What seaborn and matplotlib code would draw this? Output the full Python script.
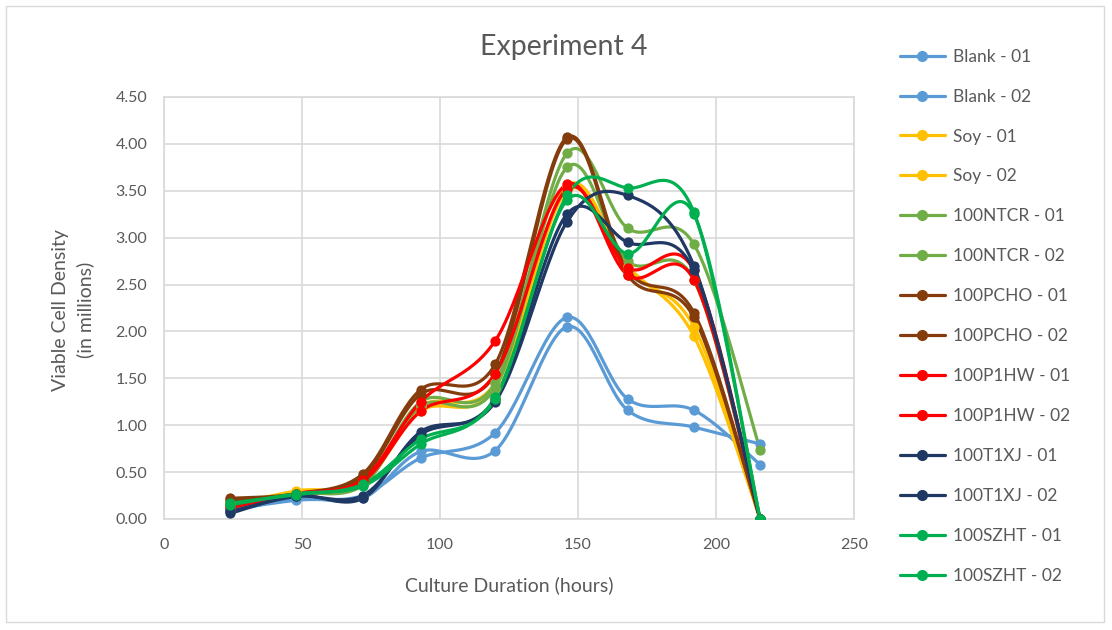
import numpy as np
import pandas as pd
import matplotlib
matplotlib.use('Agg')
import matplotlib.pyplot as plt
from matplotlib.lines import Line2D
from matplotlib.patches import Rectangle
import seaborn as sns

# culture time points (hours)
hours = [24, 48, 72, 93, 120, 146, 168, 192, 216]

# viable cell density (millions)
blank_01 = [0.10, 0.20, 0.25, 0.65, 0.92, 2.15, 1.28, 1.16, 0.58]
blank_02 = [0.08, 0.22, 0.22, 0.72, 0.73, 2.05, 1.16, 0.98, 0.80]
soy_01 = [0.15, 0.30, 0.40, 1.20, 1.45, 3.55, 2.70, 1.95, 0.00]
soy_02 = [0.18, 0.28, 0.38, 1.15, 1.40, 3.50, 2.65, 2.05, 0.00]
ntcr_01 = [0.15, 0.27, 0.38, 1.25, 1.45, 3.90, 3.10, 2.93, 0.74]
ntcr_02 = [0.17, 0.27, 0.36, 1.20, 1.40, 3.75, 2.75, 2.55, 0.00]
pcho_01 = [0.22, 0.27, 0.48, 1.38, 1.65, 4.07, 2.65, 2.20, 0.00]
pcho_02 = [0.20, 0.26, 0.45, 1.33, 1.55, 4.05, 2.60, 2.15, 0.00]
p1hw_01 = [0.12, 0.27, 0.42, 1.25, 1.90, 3.57, 2.60, 2.55, 0.00]
p1hw_02 = [0.14, 0.26, 0.40, 1.15, 1.55, 3.52, 2.68, 2.65, 0.00]
t1xj_01 = [0.06, 0.25, 0.22, 0.93, 1.25, 3.17, 3.45, 2.70, 0.00]
t1xj_02 = [0.08, 0.24, 0.25, 0.90, 1.28, 3.25, 2.95, 2.65, 0.00]
szht_01 = [0.15, 0.27, 0.35, 0.80, 1.30, 3.45, 3.53, 3.27, 0.00]
szht_02 = [0.17, 0.26, 0.37, 0.85, 1.28, 3.40, 2.83, 3.25, 0.00]

labels = ['Blank - 01', 'Blank - 02', 'Soy - 01', 'Soy - 02',
          '100NTCR - 01', '100NTCR - 02', '100PCHO - 01', '100PCHO - 02',
          '100P1HW - 01', '100P1HW - 02', '100T1XJ - 01', '100T1XJ - 02',
          '100SZHT - 01', '100SZHT - 02']
values = [blank_01, blank_02, soy_01, soy_02, ntcr_01, ntcr_02, pcho_01, pcho_02,
          p1hw_01, p1hw_02, t1xj_01, t1xj_02, szht_01, szht_02]
colors = ['#5B9BD5', '#5B9BD5', '#FFC000', '#FFC000', '#70AD47', '#70AD47',
          '#843C0C', '#843C0C', '#FF0000', '#FF0000', '#1F3864', '#1F3864',
          '#00B050', '#00B050']
palette = dict(zip(labels, colors))


def smooth(xs, ys, n=30):
    # Excel-style smoothed line (Catmull-Rom bezier)
    p = np.column_stack([xs, ys]).astype(float)
    out = []
    for i in range(len(p) - 1):
        p0 = p[i - 1] if i > 0 else p[i]
        p3 = p[i + 2] if i + 2 < len(p) else p[i + 1]
        c1 = p[i] + (p[i + 1] - p0) / 6
        c2 = p[i + 1] - (p3 - p[i]) / 6
        t = np.linspace(0, 1, n)[:, None]
        seg = ((1 - t) ** 3) * p[i] + 3 * ((1 - t) ** 2) * t * c1 + 3 * (1 - t) * t ** 2 * c2 + t ** 3 * p[i + 1]
        out.append(seg if i == 0 else seg[1:])
    return np.vstack(out)


rows, pts = [], []
for lab, vals in zip(labels, values):
    s = smooth(hours, vals)
    for k, (sx, sy) in enumerate(s):
        rows.append({'series': lab, 'order': k, 'x': sx, 'y': sy})
    for h, v in zip(hours, vals):
        pts.append({'series': lab, 'x': h, 'y': v})
curves = pd.DataFrame(rows)
points = pd.DataFrame(pts)

sns.set_style('white')
plt.rcParams['font.family'] = ['Lato', 'DejaVu Sans']

fig = plt.figure(figsize=(11.12, 6.3), dpi=100)
ax = fig.add_axes([164 / 1112, 1 - 519 / 630, 690 / 1112, 422 / 630])

for lab in labels:
    sns.lineplot(data=curves[curves.series == lab], x='x', y='y', color=palette[lab],
                 sort=False, estimator=None, linewidth=2.3, ax=ax, legend=False)
    sns.scatterplot(data=points[points.series == lab], x='x', y='y', color=palette[lab],
                    s=55, edgecolor=palette[lab], linewidth=0, ax=ax, legend=False, zorder=3)

ax.set_xlim(0, 250)
ax.set_ylim(0, 4.5)
ax.set_xticks(range(0, 251, 50))
ax.set_yticks(np.arange(0, 4.51, 0.5))
ax.set_yticklabels([f'{v:.2f}' for v in np.arange(0, 4.51, 0.5)])
ax.grid(True, color='#D9D9D9', linewidth=1.2)
ax.set_axisbelow(True)
for sp in ax.spines.values():
    sp.set_color('#D9D9D9')
    sp.set_linewidth(1.2)
ax.tick_params(colors='#595959', labelsize=11.5, length=0)
ax.tick_params(axis='x', pad=14)
ax.tick_params(axis='y', pad=12)
ax.set_xlabel('')
ax.set_ylabel('')

fig.text(564 / 1112, 1 - 47 / 630, 'Experiment 4', ha='center', va='center',
         fontsize=20.5, color='#595959')
fig.text(509 / 1112, 1 - 585 / 630, 'Culture Duration (hours)', ha='center', va='center',
         fontsize=14, color='#595959')
fig.text(73 / 1112, 1 - 310 / 630, 'Viable Cell Density\n(in millions)', ha='center', va='center',
         rotation=90, fontsize=14, color='#595959', linespacing=1.45)

handles = [Line2D([0], [0], color=c, linewidth=2.3, marker='o', markersize=7) for c in colors]
fig.legend(handles, labels, loc='upper left', bbox_to_anchor=(884 / 1112, 1 - 33 / 630),
           frameon=False, fontsize=12.5, labelcolor='#595959', handlelength=2.6,
           handletextpad=0.45, labelspacing=1.38)

fig.patches.append(Rectangle((6 / 1112, 8 / 630), 1098 / 1112, 616 / 630, fill=False,
                             edgecolor='#D9D9D9', linewidth=1, transform=fig.transFigure))

fig.savefig('out.png', dpi=100)
